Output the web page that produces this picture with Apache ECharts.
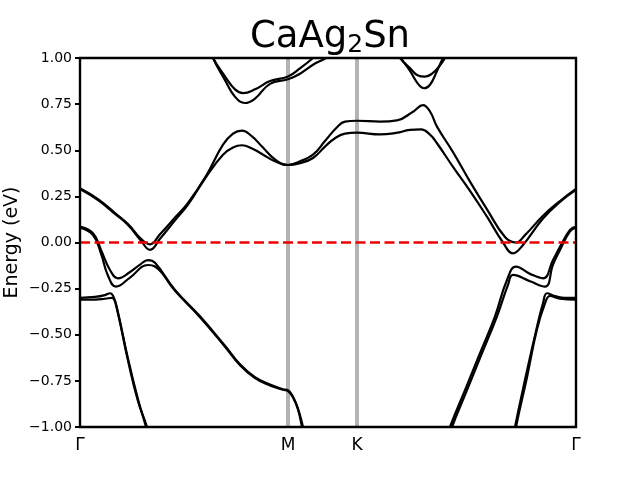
<!DOCTYPE html>
<html>
<head>
<meta charset="utf-8">
<script src="https://cdn.jsdelivr.net/npm/echarts@6/dist/echarts.min.js"></script>
<style>html,body{margin:0;padding:0;background:#fff}#c{width:640px;height:480px}</style>
</head>
<body>
<div id="c"></div>
<script>
// High-symmetry path positions (path coordinate) and labels
var kTicks = [0, 208, 277, 496];
var kLabels = ['Γ', 'M', 'K', 'Γ'];
var yTicks = [-1.0, -0.75, -0.5, -0.25, 0, 0.25, 0.5, 0.75, 1.0];

// Bands: [path coordinate, energy (eV)]
var bandTopA = [[130,1.06],[133,1.0],[145,0.88],[155,0.79],[165,0.756],[175,0.78],[190,0.86],[208,0.885],[220,0.915],[235,0.97],[246,1.0],[252,1.03]];
var bandTopB = [[130,1.05],[133,1.0],[145,0.90],[155,0.83],[163,0.81],[175,0.83],[190,0.875],[208,0.90],[220,0.944],[233,1.0],[238,1.03]];
var bandKA = [[316,1.04],[320,1.0],[330,0.945],[338,0.905],[345,0.899],[352,0.915],[360,0.96],[365,1.0],[368,1.03]];
var bandKB = [[318,1.04],[321,1.0],[330,0.93],[338,0.86],[344,0.836],[350,0.855],[357,0.93],[363,1.0],[366,1.03]];
var bandMid1 = [[0,0.294],[18,0.235],[35,0.16],[48,0.10],[61,0.02],[70,-0.01],[80,0.045],[95,0.135],[108,0.215],[126,0.36],[143,0.53],[153,0.59],[162,0.606],[172,0.575],[182,0.52],[195,0.45],[208,0.42],[220,0.44],[233,0.476],[245,0.55],[257,0.625],[265,0.655],[277,0.66],[300,0.655],[317,0.662],[333,0.709],[343,0.745],[350,0.71],[357,0.628],[373,0.49],[390,0.33],[407,0.18],[425,0.03],[436,0.0],[445,0.04],[463,0.145],[480,0.225],[496,0.29]];
var bandMid2 = [[0,0.29],[18,0.23],[35,0.155],[48,0.095],[61,0.01],[70,-0.04],[80,0.02],[95,0.12],[108,0.205],[126,0.355],[143,0.476],[153,0.515],[162,0.527],[172,0.51],[182,0.48],[195,0.44],[208,0.42],[220,0.43],[233,0.458],[245,0.52],[255,0.565],[265,0.59],[277,0.595],[300,0.586],[316,0.594],[330,0.61],[341,0.613],[350,0.585],[357,0.538],[373,0.41],[390,0.28],[407,0.14],[423,0.0],[433,-0.059],[442,-0.02],[463,0.13],[480,0.22],[496,0.285]];
var bandLow1 = [[0,0.086],[13,0.05],[21,-0.04],[30,-0.149],[38,-0.194],[50,-0.16],[60,-0.12],[68,-0.095],[75,-0.11],[95,-0.257],[120,-0.40],[145,-0.56],[160,-0.66],[175,-0.73],[190,-0.77],[203,-0.795],[208,-0.80],[213,-0.836],[218,-0.90],[223,-1.0],[225,-1.05]];
var bandLow2 = [[0,0.08],[13,0.04],[21,-0.06],[28,-0.18],[36,-0.239],[50,-0.19],[68,-0.122],[75,-0.13],[95,-0.262],[120,-0.405],[145,-0.565],[160,-0.665],[175,-0.735],[190,-0.775],[203,-0.798],[208,-0.805],[213,-0.84],[218,-0.905],[222,-1.0],[224,-1.05]];
var bandLowR1 = [[368,-1.05],[370,-1.0],[385,-0.80],[400,-0.60],[415,-0.40],[427,-0.203],[436,-0.131],[450,-0.17],[463,-0.194],[473,-0.095],[480,-0.023],[490,0.068],[496,0.086]];
var bandLowR2 = [[370,-1.05],[372,-1.0],[387,-0.80],[402,-0.60],[417,-0.40],[428,-0.23],[433,-0.176],[450,-0.21],[465,-0.239],[473,-0.12],[480,-0.04],[490,0.06],[496,0.08]];
var bandDeep1 = [[0,-0.30],[15,-0.295],[25,-0.285],[30,-0.275],[34,-0.30],[38,-0.38],[48,-0.63],[58,-0.85],[66,-1.0],[68,-1.05]];
var bandDeep2 = [[0,-0.31],[15,-0.31],[25,-0.305],[32,-0.30],[36,-0.34],[48,-0.64],[58,-0.86],[67,-1.0],[69,-1.05]];
var bandDeepR1 = [[434,-1.05],[435,-1.0],[446,-0.72],[457,-0.456],[463,-0.33],[467,-0.275],[475,-0.29],[485,-0.30],[496,-0.30]];
var bandDeepR2 = [[435,-1.05],[436,-1.0],[447,-0.73],[457,-0.47],[465,-0.33],[470,-0.29],[480,-0.305],[496,-0.31]];

var bands = [bandTopA, bandTopB, bandKA, bandKB, bandMid1, bandMid2, bandLow1, bandLow2,
             bandLowR1, bandLowR2, bandDeep1, bandDeep2, bandDeepR1, bandDeepR2];

var series = [];
[kTicks[1], kTicks[2]].forEach(function (k) {
  series.push({
    type: 'line', data: [[k, -1], [k, 1]], symbol: 'none', silent: true,
    lineStyle: { color: '#b3b3b3', width: 4 }, z: 1
  });
});
bands.forEach(function (b) {
  series.push({
    type: 'line', data: b, symbol: 'none', smooth: 0.45, silent: true,
    lineStyle: { color: '#000', width: 2.2 }, z: 2
  });
});
series.push({
  type: 'line', data: [[0, 0], [496, 0]], symbol: 'none', silent: true,
  lineStyle: { color: '#ee0000', width: 2.6, type: [10, 4.5] }, z: 3
});

var chart = echarts.init(document.getElementById('c'), null, { renderer: 'canvas' });
chart.setOption({
  animation: false,
  backgroundColor: '#fff',
  title: {
    text: '{a|CaAg}{b|2}{a|Sn}',
    left: 325, top: 11, textAlign: 'center',
    textStyle: {
      fontWeight: 'normal',
      rich: {
        a: { fontFamily: 'DejaVu Sans', fontSize: 37, fontWeight: 'normal', lineHeight: 42, color: '#000' },
        b: { fontFamily: 'DejaVu Sans', fontSize: 25, fontWeight: 'normal', lineHeight: 26, color: '#000', verticalAlign: 'bottom' }
      }
    }
  },
  grid: { left: 80, right: 64, top: 58, bottom: 53, containLabel: false, outerBoundsMode: 'none',
          show: true, borderColor: '#000', borderWidth: 2.4, backgroundColor: 'transparent', z: 10 },
  xAxis: {
    type: 'value', min: 0, max: 496,
    axisLine: { show: false },
    splitLine: { show: false },
    axisTick: { show: true, length: 5, lineStyle: { color: '#000', width: 2 }, customValues: kTicks },
    axisLabel: {
      show: true, customValues: kTicks, margin: 10,
      fontFamily: 'DejaVu Sans', fontSize: 17, color: '#000',
      formatter: function (v) { var i = kTicks.indexOf(v); return i >= 0 ? kLabels[i] : ''; }
    }
  },
  yAxis: {
    type: 'value', min: -1, max: 1, interval: 0.25,
    name: 'Energy (eV)', nameLocation: 'middle', nameGap: 58, nameMoveOverlap: false,
    nameTextStyle: { fontFamily: 'DejaVu Sans', fontSize: 19, color: '#000' },
    axisLine: { show: false },
    splitLine: { show: false },
    axisTick: { show: true, length: 5, lineStyle: { color: '#000', width: 2 } },
    axisLabel: {
      fontFamily: 'DejaVu Sans', fontSize: 14, color: '#000', margin: 8,
      formatter: function (v) { return v.toFixed(2).replace('-', '\u2212'); }
    }
  },
  series: series
});
</script>
</body>
</html>
